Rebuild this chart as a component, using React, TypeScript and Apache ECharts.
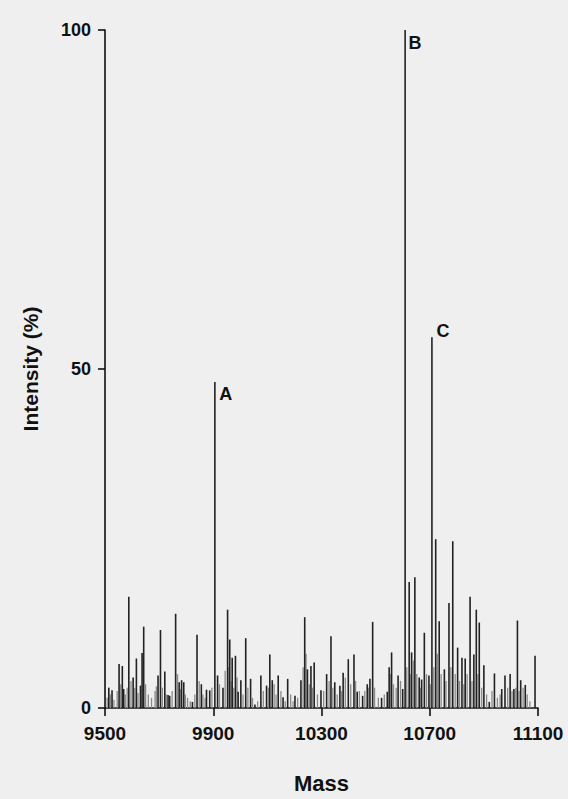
import React, { useEffect, useRef } from "react";
import * as echarts from "echarts";

// Main peaks (mass, intensity %)
const peakMass = [
  9514, 9526, 9552, 9564, 9569, 9588, 9604, 9616, 9631, 9637, 9643, 9696, 9705, 9721, 9733, 9739,
  9761, 9774, 9783, 9791, 9823, 9840, 9856, 9875, 9887, 9906, 9916, 9936, 9953, 9961, 9970, 9982,
  9992, 10002, 10020, 10038, 10054, 10076, 10097, 10109, 10118, 10140, 10158, 10175, 10202, 10224,
  10238, 10248, 10261, 10273, 10298, 10319, 10335, 10349, 10368, 10380, 10399, 10420, 10432, 10452,
  10469, 10479, 10489, 10522, 10543, 10550, 10559, 10583, 10600, 10609, 10624, 10633, 10645, 10661,
  10670, 10680, 10697, 10708, 10722, 10735, 10754, 10771, 10785, 10803, 10819, 10831, 10849, 10863,
  10872, 10883, 10900, 10920, 10939, 10966, 10978, 10997, 11011, 11024, 11036, 11053, 11089,
];
const peakIntensity = [
  3.0, 2.6, 6.5, 6.2, 2.8, 16.4, 4.5, 7.3, 3.3, 8.1, 12.0, 4.8, 11.5, 5.4, 1.9, 1.8,
  13.9, 3.8, 4.1, 3.8, 0.9, 10.8, 3.5, 2.7, 2.6, 48.1, 4.8, 3.0, 14.5, 10.1, 7.4, 7.7,
  2.4, 4.1, 10.3, 4.3, 0.5, 4.8, 3.3, 7.9, 4.1, 4.8, 1.6, 4.3, 1.8, 4.1,
  13.4, 5.7, 6.2, 6.7, 2.6, 5.0, 10.6, 3.8, 3.3, 5.2, 7.2, 7.9, 2.4, 1.8,
  3.5, 4.3, 12.7, 1.5, 2.4, 6.0, 8.2, 4.8, 2.8, 100, 18.6, 8.2, 19.3, 4.5,
  4.2, 11.1, 4.8, 54.7, 24.9, 12.8, 5.7, 15.5, 24.6, 8.9, 7.4, 7.3, 16.4, 7.9,
  14.5, 12.6, 6.3, 0.9, 5.1, 2.8, 4.8, 5.0, 2.8, 12.9, 4.1, 3.4, 7.7,
];

// Low-level background signal
const minorMass = [
  9508, 9520, 9533, 9545, 9558, 9575, 9582, 9596, 9610, 9622, 9650, 9660, 9672, 9685, 9690, 9712,
  9727, 9748, 9768, 9779, 9797, 9805, 9815, 9832, 9848, 9862, 9870, 9895, 9923, 9944, 9958, 9966,
  9976, 9988, 10010, 10028, 10045, 10064, 10085, 10104, 10125, 10132, 10150, 10166, 10186, 10195,
  10212, 10232, 10243, 10255, 10267, 10285, 10308, 10328, 10342, 10358, 10374, 10388, 10408, 10426,
  10440, 10460, 10474, 10496, 10510, 10532, 10555, 10566, 10576, 10592, 10615, 10628, 10640, 10652,
  10666, 10688, 10702, 10715, 10728, 10742, 10760, 10778, 10794, 10810, 10826, 10838, 10856, 10878,
  10892, 10910, 10930, 10950, 10960, 10988, 11004, 11018, 11030, 11045, 11060, 11070,
];
const minorIntensity = [
  1.5, 2.0, 1.2, 2.5, 3.5, 2.0, 3.0, 4.0, 3.0, 2.2, 3.5, 2.0, 1.5, 2.5, 3.2, 3.0,
  2.0, 2.5, 5.0, 2.8, 2.0, 1.5, 1.0, 2.0, 4.0, 2.0, 1.5, 3.0, 3.5, 5.5, 6.0, 4.0,
  3.0, 4.5, 2.0, 3.0, 1.5, 1.0, 2.5, 3.0, 3.5, 2.0, 2.5, 1.0, 2.0, 1.0,
  1.5, 6.0, 8.0, 3.5, 3.0, 2.0, 2.5, 4.0, 3.0, 2.0, 2.5, 4.5, 3.5, 4.0,
  2.5, 2.5, 3.0, 3.0, 1.5, 2.0, 5.0, 3.5, 3.0, 4.0, 6.0, 5.0, 7.0, 5.0,
  3.0, 5.0, 3.5, 6.0, 8.0, 5.0, 4.0, 6.0, 5.0, 4.0, 3.5, 5.0, 4.0, 5.0,
  3.0, 2.0, 2.5, 1.5, 2.0, 3.0, 2.5, 3.0, 2.5, 3.0, 2.0, 1.0,
];

const labelNames = ["A", "B", "C"];
const labelMass = [9906, 10609, 10708];
const labelIntensity = [48.1, 100, 54.7];
const labelOffsets = [
  [11, 12],
  [10, 13],
  [11, -6],
];

const xTicks = [9500, 9900, 10300, 10700, 11100];
const yTicks = [0, 50, 100];

const FONT = "'Liberation Sans', Arial, sans-serif";

export default function App() {
  const ref = useRef<HTMLDivElement>(null);
  useEffect(() => {
    document.body.style.margin = "0";
    document.body.style.background = "#efefef";
    const chart = echarts.init(ref.current!, null, { renderer: "svg" });
    const stick = (color: string, width: number) => (params: any, api: any) => {
      const x = api.value(0);
      const y = api.value(1);
      const top = api.coord([x, y]);
      const base = api.coord([x, 0]);
      return {
        type: "line",
        shape: { x1: top[0], y1: base[1], x2: top[0], y2: top[1] },
        style: { stroke: color, lineWidth: width },
      };
    };
    chart.setOption({
      animation: false,
      backgroundColor: "#efefef",
      grid: { left: 105, right: 30, top: 30, bottom: 83 },
      xAxis: {
        type: "value",
        min: xTicks[0],
        max: xTicks[xTicks.length - 1],
        interval: 400,
        name: "Mass",
        nameLocation: "middle",
        nameGap: 64,
        nameTextStyle: { fontFamily: FONT, fontWeight: "bold", fontSize: 22, color: "#111" },
        axisLine: { lineStyle: { color: "#111", width: 1.6 } },
        axisTick: { show: true, length: 8, lineStyle: { color: "#111", width: 1.6 } },
        axisLabel: {
          fontFamily: FONT,
          fontWeight: "bold",
          fontSize: 19,
          color: "#111",
          margin: 16,
          formatter: (v: number) => String(v),
        },
        splitLine: { show: false },
      },
      yAxis: {
        type: "value",
        min: yTicks[0],
        max: yTicks[yTicks.length - 1],
        interval: 50,
        name: "Intensity (%)",
        nameLocation: "middle",
        nameGap: 64,
        nameTextStyle: { fontFamily: FONT, fontWeight: "bold", fontSize: 21, color: "#111" },
        axisLine: { show: true, lineStyle: { color: "#111", width: 1.6 } },
        axisTick: { show: true, length: 7, lineStyle: { color: "#111", width: 1.6 } },
        axisLabel: { fontFamily: FONT, fontWeight: "bold", fontSize: 18, color: "#111", margin: 14 },
        splitLine: { show: false },
      },
      series: [
        {
          type: "custom",
          renderItem: stick("#8a8a8a", 1.3),
          data: minorMass.map((m, i) => [m, minorIntensity[i]]),
          encode: { x: 0, y: 1 },
          silent: true,
        },
        {
          type: "custom",
          renderItem: stick("#222", 1.6),
          data: peakMass.map((m, i) => [m, peakIntensity[i]]),
          encode: { x: 0, y: 1 },
          silent: true,
        },
        {
          type: "custom",
          renderItem: (params: any, api: any) => {
            const i = params.dataIndex;
            const p = api.coord([api.value(0), api.value(1)]);
            return {
              type: "text",
              x: p[0] + labelOffsets[i][0],
              y: p[1] + labelOffsets[i][1],
              style: {
                text: labelNames[i],
                fontFamily: FONT,
                fontWeight: "bold",
                fontSize: 18,
                fill: "#111",
                align: "center",
                verticalAlign: "middle",
              },
            };
          },
          data: labelMass.map((m, i) => [m, labelIntensity[i]]),
          encode: { x: 0, y: 1 },
          silent: true,
        },
      ],
    });
    return () => chart.dispose();
  }, []);
  return (
    <div
      ref={ref}
      style={{ position: "fixed", left: 0, top: 0, width: 568, height: 799, background: "#efefef" }}
    />
  );
}
